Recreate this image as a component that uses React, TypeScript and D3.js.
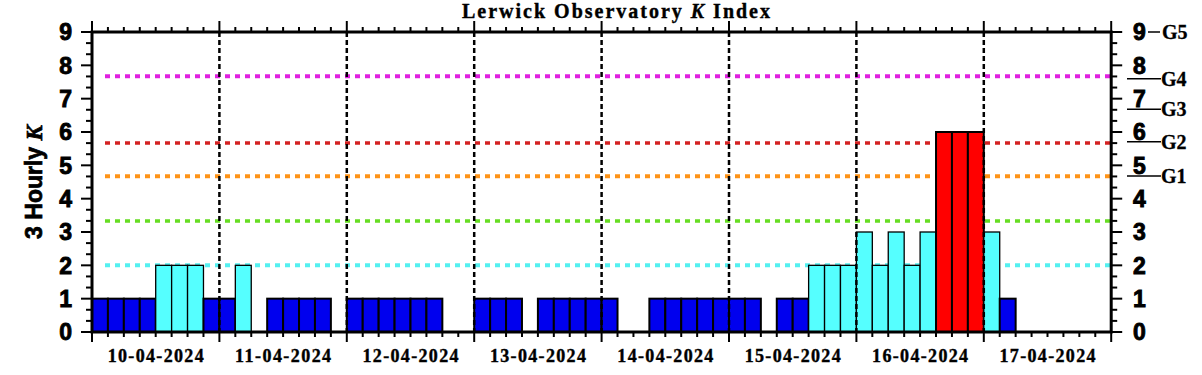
import React from 'react';
import * as d3 from 'd3';

const dayLabels = ['10-04-2024', '11-04-2024', '12-04-2024', '13-04-2024', '14-04-2024', '15-04-2024', '16-04-2024', '17-04-2024'];
const kDay10 = [1, 1, 1, 1, 2, 2, 2, 1];
const kDay11 = [1, 2, 0, 1, 1, 1, 1, 0];
const kDay12 = [1, 1, 1, 1, 1, 1, 0, 0];
const kDay13 = [1, 1, 1, 0, 1, 1, 1, 1];
const kDay14 = [1, 0, 0, 1, 1, 1, 1, 1];
const kDay15 = [1, 1, 0, 1, 1, 2, 2, 2];
const kDay16 = [3, 2, 3, 2, 3, 6, 6, 6];
const kDay17 = [3, 1, null, null, null, null, null, null];
const kValues: (number | null)[] = [...kDay10, ...kDay11, ...kDay12, ...kDay13, ...kDay14, ...kDay15, ...kDay16, ...kDay17];

const yTickValues = [0, 1, 2, 3, 4, 5, 6, 7, 8, 9];
const thresholdLevels = [2, 3.33, 4.67, 5.67, 7.67];
const thresholdColors = ['#55f0f0', '#66dd22', '#ff9418', '#d42222', '#e020e0'];
const thresholdWidths = [4, 3.5, 4, 3.5, 4];
const gLabels = ['G1', 'G2', 'G3', 'G4'];
const gLevels = [4.68, 5.71, 6.68, 7.6];

const W = 1202, H = 375;
const X0 = 92, X1 = 1111.2, Y0 = 32, Y1 = 332;
const SLOTS_PER_DAY = 8;

function barColor(k: number) {
  if (k <= 1) return '#0000ee';
  if (k <= 3) return '#55ffff';
  if (k <= 4) return '#ffff33';
  return '#ff0000';
}

export default function App() {
  const nSlots = dayLabels.length * SLOTS_PER_DAY;
  const x = d3.scaleLinear().domain([0, nSlots]).range([X0, X1]);
  const y = d3.scaleLinear().domain([0, 9]).range([Y1, Y0]);

  const slotTicks = d3.range(0, nSlots + 1);
  const minorY = d3.range(0, 27 + 1).map((i) => i / 3).filter((v, i) => i % 3 !== 0);

  const sans = 'Liberation Sans, Arial, sans-serif';
  const serif = 'Liberation Serif, Times New Roman, serif';

  return (
    <svg width={W} height={H} style={{ position: 'absolute', left: 0, top: 0, background: '#fff' }}>
      <rect x={0} y={0} width={W} height={H} fill="#fff" />
      {/* title */}
      <text x={616} y={18} textAnchor="middle" fontFamily={serif} fontWeight="bold" fontSize={20}
        textLength={308} lengthAdjust="spacing" stroke="#000" strokeWidth={0.4}>
        Lerwick Observatory <tspan fontStyle="italic">K</tspan> Index
      </text>

      {/* threshold lines */}
      {thresholdLevels.map((lv, i) => (
        <line key={'th' + i} x1={X0 + 13} x2={X1 - 1} y1={y(lv)} y2={y(lv)} stroke={thresholdColors[i]}
          strokeWidth={thresholdWidths[i]} strokeDasharray="5,5" />
      ))}

      {/* bars */}
      {kValues.map((k, i) => (k != null && k > 0 ? (
        <rect key={'b' + i} x={x(i)} y={y(k)} width={x(i + 1) - x(i)} height={y(0) - y(k)}
          fill={barColor(k)} stroke="#000" strokeWidth={k >= 2 && k <= 3 ? 1.3 : 2} />
      ) : null))}

      {/* day dashed lines */}
      {d3.range(1, dayLabels.length).map((d) => (
        <line key={'dl' + d} x1={x(d * SLOTS_PER_DAY)} x2={x(d * SLOTS_PER_DAY)} y1={Y0} y2={Y1}
          stroke="#000" strokeWidth={2.5} strokeDasharray="5,3" />
      ))}

      {/* x ticks top and bottom */}
      {slotTicks.map((s) => {
        const major = s % SLOTS_PER_DAY === 0;
        const xx = x(s);
        return (
          <g key={'xt' + s}>
            <line x1={xx} x2={xx} y1={Y0} y2={major ? Y0 - 11 : Y0 - 5} stroke="#000" strokeWidth={2} />
            <line x1={xx} x2={xx} y1={Y1} y2={major ? Y1 + 10 : Y1 + 5} stroke="#000" strokeWidth={2} />
          </g>
        );
      })}

      {/* y ticks */}
      {yTickValues.map((v) => (
        <g key={'yt' + v}>
          <line x1={X0 - 11} x2={X0} y1={y(v)} y2={y(v)} stroke="#000" strokeWidth={2} />
          <line x1={X1} x2={X1 + 11} y1={y(v)} y2={y(v)} stroke="#000" strokeWidth={2} />
          <text x={72} y={y(v)} dy="0.36em" textAnchor="end" fontFamily={sans} fontWeight="900" fontSize={23}
            stroke="#000" strokeWidth={0.9}>{v}</text>
          <text x={1133} y={y(v)} dy="0.36em" textAnchor="start" fontFamily={sans} fontWeight="900" fontSize={23}
            stroke="#000" strokeWidth={0.9}>{v}</text>
        </g>
      ))}
      {minorY.map((v, i) => (
        <g key={'my' + i}>
          <line x1={X0 - 6} x2={X0} y1={y(v)} y2={y(v)} stroke="#000" strokeWidth={2} />
          <line x1={X1} x2={X1 + 6} y1={y(v)} y2={y(v)} stroke="#000" strokeWidth={2} />
        </g>
      ))}

      {/* frame */}
      <rect x={X0} y={Y0} width={X1 - X0} height={Y1 - Y0} fill="none" stroke="#000" strokeWidth={3} />

      {/* x labels */}
      {dayLabels.map((d, i) => (
        <text key={'xl' + d} x={(x(i * SLOTS_PER_DAY) + x((i + 1) * SLOTS_PER_DAY)) / 2} y={362} textAnchor="middle"
          fontFamily={serif} fontWeight="bold" fontSize={18} textLength={96} lengthAdjust="spacing"
          stroke="#000" strokeWidth={0.4}>{d}</text>
      ))}

      {/* y title */}
      <text transform={`translate(41.5,${(Y0 + Y1) / 2}) rotate(-90)`} textAnchor="middle" fontFamily={sans}
        fontWeight="bold" fontSize={23} stroke="#000" strokeWidth={0.7}>
        3 Hourly <tspan fontFamily={serif} fontStyle="italic">K</tspan>
      </text>

      {/* G scale */}
      <line x1={1148} x2={1160} y1={y(9)} y2={y(9)} stroke="#000" strokeWidth={1.5} />
      <text x={1162} y={y(9)} dy="0.35em" fontFamily={serif} fontWeight="bold" fontSize={20}
        stroke="#000" strokeWidth={0.3}>G5</text>
      {gLevels.map((lv, i) => (
        <g key={'g' + i}>
          <line x1={1127} x2={1161} y1={y(lv)} y2={y(lv)} stroke="#000" strokeWidth={1.5} />
          <text x={1161} y={y(lv)} dy="0.35em" fontFamily={serif} fontWeight="bold" fontSize={20}
            stroke="#000" strokeWidth={0.3}>{gLabels[i]}</text>
        </g>
      ))}
    </svg>
  );
}
